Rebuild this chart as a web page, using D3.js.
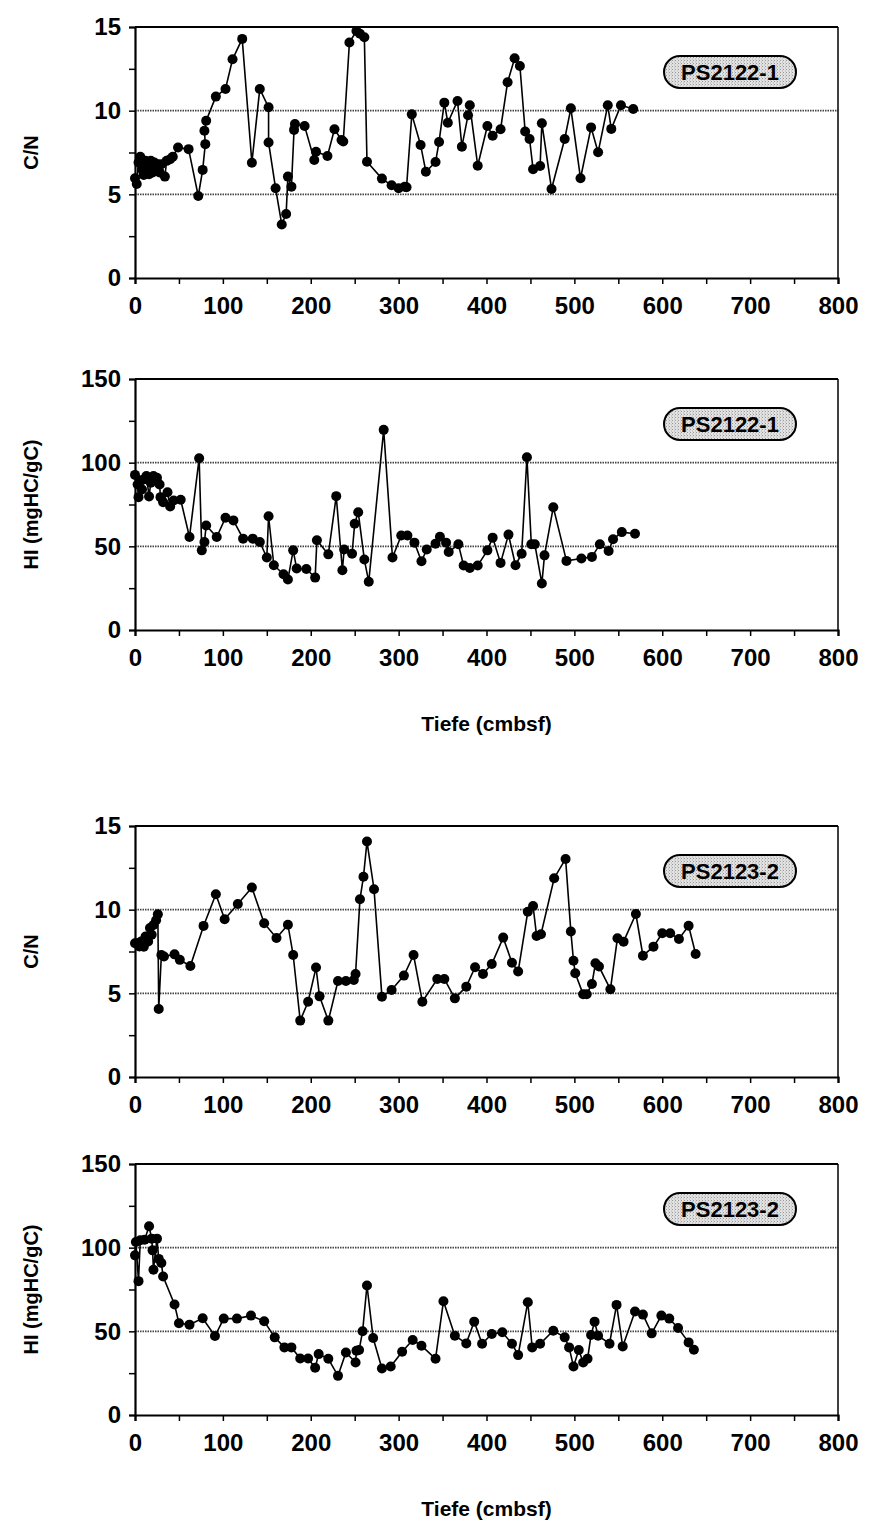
<!DOCTYPE html>
<html><head><meta charset="utf-8">
<script src="https://cdn.jsdelivr.net/npm/d3@7"></script>
<style>
body{margin:0;background:#fff;}
svg{display:block;}
text{font-family:"Liberation Sans",Arial,sans-serif;font-weight:bold;fill:#000;}
</style></head>
<body>
<svg id="chart" width="869" height="1521"></svg>
<script>
// ---------- data ----------
const depthTicks = [0,100,200,300,400,500,600,700,800];
const cnTicks = [0,5,10,15];
const hiTicks = [0,50,100,150];
const coreLabels = ["PS2122-1","PS2122-1","PS2123-2","PS2123-2"];
const yTitles = ["C/N","HI (mgHC/gC)","C/N","HI (mgHC/gC)"];
const xTitle = "Tiefe (cmbsf)";

const depthCN1 = [0,2,4,6,8,10,12,14,16,18,20,22,24,26,28,30,34,36,40,43,49,61,72,77,80,79,81,92,103,111,122,133,142,152,152,160,167,172,174,178,181,182,193,204,206,219,227,235,237,244,252,256,261,264,281,292,300,307,309,315,325,331,342,346,352,356,367,372,379,381,390,401,407,416,424,432,438,444,449,453,461,463,474,489,496,507,519,527,538,542,553,567];
const valCN1 = [5.96,5.62,6.9,7.25,6.5,6.16,7.0,6.7,6.2,7.0,6.3,6.9,6.6,6.8,6.3,6.8,6.06,7.0,7.1,7.25,7.8,7.7,4.9,6.46,8.0,8.8,9.4,10.84,11.3,13.07,14.29,6.89,11.3,10.2,8.1,5.36,3.2,3.83,6.06,5.46,8.85,9.2,9.08,7.05,7.55,7.29,8.89,8.25,8.16,14.07,14.76,14.6,14.39,6.95,5.94,5.54,5.36,5.46,5.42,9.78,7.95,6.35,6.93,8.13,10.48,9.28,10.58,7.85,9.73,10.32,6.71,9.08,8.5,8.89,11.7,13.13,12.67,8.75,8.31,6.5,6.69,9.25,5.32,8.31,10.14,5.96,9.0,7.51,10.32,8.91,10.32,10.1];

const depthHI1 = [0,3,4,6,8,10,13,16,18,21,25,28,29,32,37,40,44,52,62,73,76,79,81,93,103,112,123,134,142,150,152,158,169,174,180,184,195,205,207,220,229,236,238,247,250,254,261,266,283,293,303,310,318,326,332,342,347,354,357,368,374,381,390,401,407,416,425,433,440,446,451,455,463,466,476,491,508,520,529,539,544,554,569];
const valHI1 = [92.7,87,79.4,89.3,84,90,92,79.8,88,92,91,86.9,79.4,76.4,82.3,73.8,77.4,77.8,55.6,102.6,47.6,52.6,62.5,55.6,67.1,65.5,54.6,54.6,52.6,43.3,68,38.7,33.3,30.2,47.6,36.7,36.5,31.3,53.6,45.2,80,35.7,48.1,45.6,63.5,70.4,42.1,28.8,119.6,43.3,56.5,56.5,52.2,41.1,48.1,51.6,55.7,52.2,46.6,51.2,38.5,37.1,38.5,47.6,55.2,40.1,57,38.7,45.6,103.2,51.2,51.2,27.8,44.6,73.4,41.3,42.7,43.7,51.2,47.2,54.2,58.5,57.5];

const depthCN2 = [0,2,5,7,10,12,15,17,19,21,24,26,27,30,33,45,51,63,78,92,102,117,133,147,161,174,180,188,197,206,210,220,231,240,249,251,256,260,264,272,281,292,306,317,327,344,352,364,377,387,396,406,419,429,436,447,453,457,462,477,490,496,499,501,510,514,520,524,528,541,549,556,570,578,590,600,609,619,630,638];
const valCN2 = [7.99,8.0,7.8,8.1,7.79,8.4,8.1,8.9,8.5,9.08,9.37,9.72,4.06,7.29,7.2,7.33,7.0,6.63,9.03,10.92,9.43,10.34,11.32,9.19,8.31,9.1,7.29,3.37,4.5,6.54,4.82,3.37,5.74,5.74,5.8,6.16,10.62,11.97,14.07,11.22,4.8,5.2,6.06,7.29,4.5,5.86,5.86,4.7,5.4,6.56,6.16,6.75,8.33,6.83,6.3,9.88,10.22,8.43,8.53,11.88,13.03,8.69,6.95,6.2,4.94,4.94,5.56,6.8,6.6,5.24,8.29,8.09,9.74,7.25,7.79,8.59,8.59,8.25,9.04,7.35];

const depthHI2 = [0,1,4,6,11,16,19,20,21,25,27,30,32,45,50,62,77,91,101,116,132,147,159,170,178,188,197,205,209,220,231,240,251,252,255,259,264,271,281,291,304,316,326,342,351,364,377,386,395,406,418,429,436,447,452,461,476,489,494,499,505,510,515,519,523,527,540,548,555,569,578,588,599,608,618,630,636];
const valHI2 = [95.4,103.4,80,104.4,104.8,112.8,105.4,98.4,86.8,105.4,93.3,90.8,82.8,66,54.8,54,57.8,47.2,57.6,57.6,59.4,56,46.4,40.4,40.4,33.8,33.8,28.2,36.4,33.6,23.4,37.4,31.4,38.4,38.8,50,77.4,46,27.8,29,37.8,44.8,41.4,33.6,68,47.4,42.8,55.8,42.6,48.4,49.4,42.6,35.8,67.4,40.4,42.6,50.4,46.4,40.4,29,38.8,31.4,33.6,47.8,55.8,47.4,42.6,65.8,41,61.8,60,48.8,59.4,57.6,52,43.4,39];

// ---------- layout ----------
const svg = d3.select("#chart");
const X0 = 135, X1 = 838, PH = 251;
const panelTops = [27, 379, 826, 1164];

const defs = svg.append("defs");
const pat = defs.append("pattern").attr("id","stipple").attr("width",3).attr("height",3).attr("patternUnits","userSpaceOnUse");
pat.append("rect").attr("width",3).attr("height",3).attr("fill","#e2e2e2");
pat.append("rect").attr("x",0).attr("y",0).attr("width",1).attr("height",1).attr("fill","#999");
pat.append("rect").attr("x",2).attr("y",1.5).attr("width",1).attr("height",1).attr("fill","#b5b5b5");

const x = d3.scaleLinear().domain([0,800]).range([X0,X1]);

const panels = [
  {depth:depthCN1, val:valCN1, ticks:cnTicks, max:15},
  {depth:depthHI1, val:valHI1, ticks:hiTicks, max:150},
  {depth:depthCN2, val:valCN2, ticks:cnTicks, max:15},
  {depth:depthHI2, val:valHI2, ticks:hiTicks, max:150}
];

panels.forEach((p,i)=>{
  const top = panelTops[i], bot = top + PH;
  const y = d3.scaleLinear().domain([0,p.max]).range([bot, top]);
  const g = svg.append("g");
  const step = p.ticks[1];

  // gridlines
  g.selectAll(".grid").data(p.ticks.slice(1, -1)).join("line")
    .attr("x1",X0).attr("x2",X1).attr("y1",d=>y(d)).attr("y2",d=>y(d))
    .attr("stroke","#444").attr("stroke-width",1.8).attr("stroke-dasharray","1.5,1");

  // frame (top + right)
  g.append("line").attr("x1",X0).attr("x2",X1).attr("y1",top).attr("y2",top).attr("stroke","#000").attr("stroke-width",2.2);
  g.append("line").attr("x1",X1).attr("x2",X1).attr("y1",top).attr("y2",bot).attr("stroke","#000").attr("stroke-width",1.5);

  // x axis
  const xMinor = d3.range(0, 801, 50);
  const xa = d3.axisBottom(x).tickValues(xMinor).tickSize(6).tickPadding(10)
    .tickFormat(d=> depthTicks.includes(d) ? d : "");
  const gx = g.append("g").attr("transform",`translate(0,${bot})`).call(xa);
  gx.select(".domain").attr("stroke","#000").attr("stroke-width",2.2);
  gx.selectAll(".tick line").attr("stroke","#000").attr("stroke-width",1.5);
  gx.selectAll("text").style("font-size","24px").attr("dy","0.85em");

  // y axis
  const yMinor = d3.range(0, p.max + step/4, step/2);
  const ya = d3.axisLeft(y).tickValues(yMinor).tickSize(6).tickPadding(8)
    .tickFormat(d=> p.ticks.includes(d) ? d : "");
  const gy = g.append("g").attr("transform",`translate(${X0},0)`).call(ya);
  gy.select(".domain").attr("stroke","#000").attr("stroke-width",2.2);
  gy.selectAll(".tick line").attr("stroke","#000").attr("stroke-width",1.5);
  gy.selectAll("text").style("font-size","24px");

  // y title
  svg.append("text").attr("transform",`translate(38,${(top+bot)/2}) rotate(-90)`)
    .attr("text-anchor","middle").style("font-size","20px").text(yTitles[i]);

  // data
  const pts = p.depth.map((d,k)=>[d, p.val[k]]);
  const line = d3.line().x(d=>x(d[0])).y(d=>y(d[1]));
  g.append("path").datum(pts).attr("d",line).attr("fill","none").attr("stroke","#000").attr("stroke-width",1.6);
  g.selectAll(".pt").data(pts).join("circle")
    .attr("cx",d=>x(d[0])).attr("cy",d=>y(d[1])).attr("r",5).attr("fill","#000");

  // label pill
  const cy = top + 45, pw = 132, ph = 32, cx = 730;
  g.append("rect").attr("x",cx-pw/2).attr("y",cy-ph/2).attr("width",pw).attr("height",ph)
    .attr("rx",ph/2).attr("ry",ph/2).attr("fill","url(#stipple)").attr("stroke","#000").attr("stroke-width",2);
  g.append("text").attr("x",cx).attr("y",cy).attr("dy","0.36em").attr("text-anchor","middle")
    .style("font-size","22px").text(coreLabels[i]);

  if (i===1 || i===3) {
    svg.append("text").attr("x",(X0+X1)/2).attr("y",bot+101).attr("text-anchor","middle")
      .style("font-size","21px").text(xTitle);
  }
});
</script>
</body></html>
